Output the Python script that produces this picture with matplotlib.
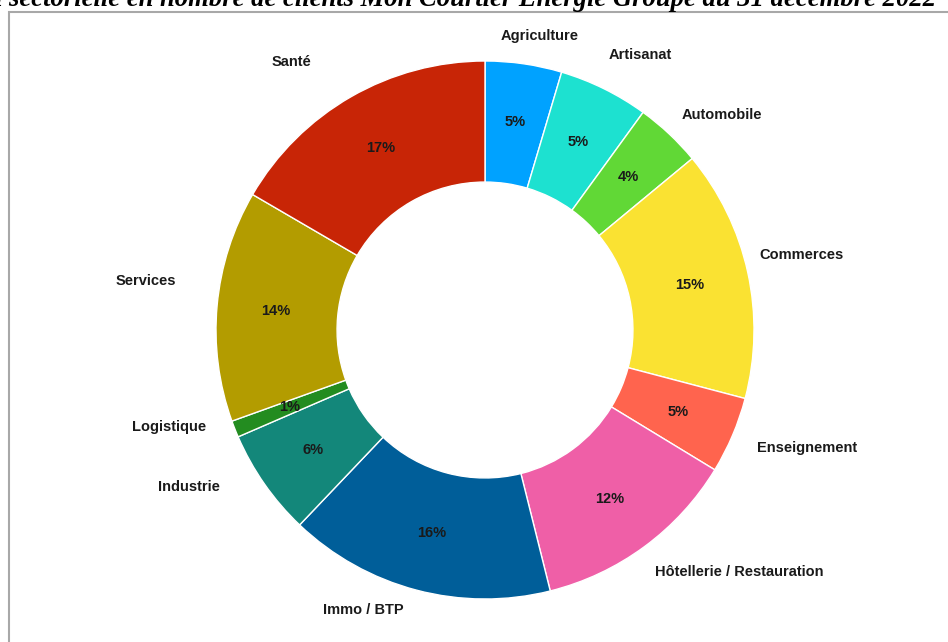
import numpy as np
import matplotlib
matplotlib.use("Agg")
from matplotlib import pyplot as plt
from matplotlib.patches import Rectangle

# sectors, clockwise from the top
sectors = ["Agriculture", "Artisanat", "Automobile", "Commerces", "Enseignement",
           "Hôtellerie / Restauration", "Immo / BTP", "Industrie", "Logistique",
           "Services", "Santé"]
shares = [4.6, 5.4, 4.0, 15.1, 4.6, 12.4, 16.0, 6.4, 1.0, 13.9, 16.6]
colors = ["#00A2FF", "#1DE1D0", "#61D836", "#FAE232", "#FF644E", "#EF5FA7",
          "#005E99", "#13877A", "#238C20", "#B39C00", "#C82506"]

# label placement (radius in ring radii, angular nudge in degrees)
label_r = [1.11, 1.175, 1.19, 1.21, 1.275, 1.305, 1.135, 1.245, 1.227, 1.275, 1.23]
label_dang = [2.3, 3.1, 4.5, -0.9, -3, -10.1, 8.7, 7, 4.6, 3, -6]

title = "Répartition sectorielle en nombre de clients Mon Courtier Energie Groupe au 31 décembre 2022"

W, H = 948, 642
fig = plt.figure(figsize=(W / 100, H / 100), dpi=100)
ax = fig.add_axes([0, 0, 1, 1])

cx, cy, R = 485, 330, 269
wedges, texts, autotexts = ax.pie(
    shares, colors=colors, startangle=90, counterclock=False, radius=1,
    autopct="%.0f%%", pctdistance=0.78,
    wedgeprops=dict(width=0.45, edgecolor="white", linewidth=1),
    textprops=dict(fontsize=10.5, fontweight="bold", color="#1a1a1a",
                   family="Liberation Sans"))

# outside labels
cum = np.cumsum(shares) - np.array(shares) / 2
for name, mid, r, da in zip(sectors, cum, label_r, label_dang):
    ang = np.deg2rad(90 - (mid / 100 * 360 + da))
    ax.text(r * np.cos(ang), r * np.sin(ang), name, ha="center", va="center",
            fontsize=10.5, fontweight="bold", color="#1a1a1a", family="Liberation Sans")

ax.set_xlim(-cx / R, (W - cx) / R)
ax.set_ylim((cy - H) / R, cy / R)
ax.set_aspect("auto")
ax.axis("off")

# frame of the original slide
fig.patches.append(Rectangle((9 / W, -0.1), 1.2, (H - 12) / H + 0.1, transform=fig.transFigure,
                             fill=False, edgecolor="#a8a8a8", linewidth=1.5))

# title, cut off at the top
fig.text(936 / W, (H - 6) / H, title, ha="right", va="baseline", fontsize=19.2,
         fontweight="bold", fontstyle="italic", family="Liberation Serif")

fig.savefig("out.png", dpi=100)
